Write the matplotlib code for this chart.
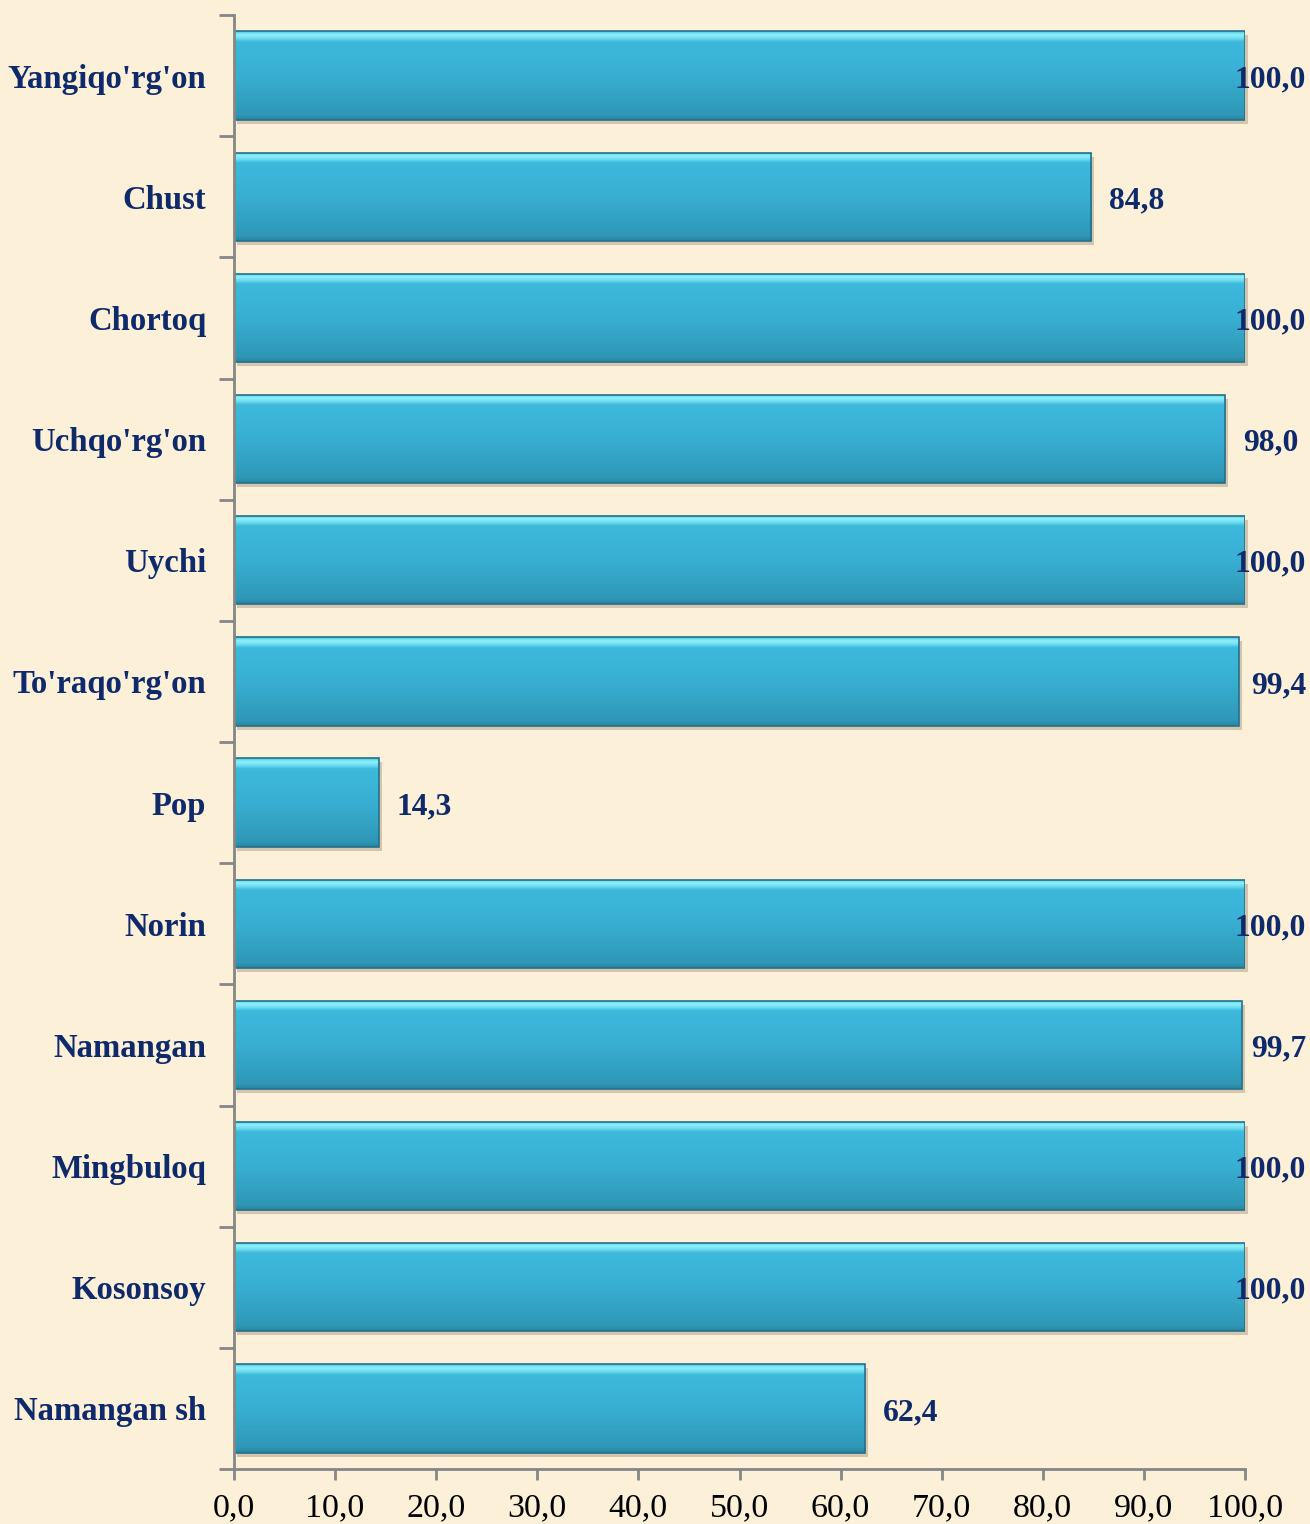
import matplotlib
matplotlib.use("Agg")
import matplotlib.pyplot as plt
import numpy as np
from matplotlib.colors import LinearSegmentedColormap
from matplotlib.patches import Rectangle
import matplotlib.transforms as mtransforms

categories = ["Namangan sh", "Kosonsoy", "Mingbuloq", "Namangan", "Norin", "Pop",
              "To'raqo'rg'on", "Uychi", "Uchqo'rg'on", "Chortoq", "Chust", "Yangiqo'rg'on"]
values = [62.4, 100.0, 100.0, 99.7, 100.0, 14.3, 99.4, 100.0, 98.0, 100.0, 84.8, 100.0]
xticks = [0, 10, 20, 30, 40, 50, 60, 70, 80, 90, 100]
xtick_labels = ["0,0", "10,0", "20,0", "30,0", "40,0", "50,0", "60,0", "70,0", "80,0", "90,0", "100,0"]

W, H = 1310, 1524
DPI = 100
bg = "#fcf0d9"
navy = "#0e2a6b"

fig = plt.figure(figsize=(W / DPI, H / DPI), dpi=DPI, facecolor=bg)
ax = fig.add_axes([234 / W, 1 - 1469 / H, (1245 - 234) / W, (1469 - 15) / H])
ax.set_facecolor("none")

y = np.arange(len(categories))
bars = ax.barh(y, values, height=0.73, color="#3ab4d8", edgecolor="none", zorder=2)

ax.set_xlim(0, 100)
ax.set_ylim(-0.5, len(categories) - 0.5)

cmap = LinearSegmentedColormap.from_list(
    "bev", [(0.0, "#27859f"), (0.06, "#2f97b7"), (0.5, "#38afd2"), (0.88, "#3db9dc"),
            (0.92, "#6fdcf2"), (0.96, "#8ff0fb"), (1.0, "#4cc6e2")])
grad = np.linspace(0, 1, 256).reshape(-1, 1)

shadow_off = mtransforms.offset_copy(ax.transData, fig=fig, x=3, y=-4, units="dots")
for b in bars:
    x0, y0 = b.get_x(), b.get_y()
    w, h = b.get_width(), b.get_height()
    sh = Rectangle((x0, y0), w, h, transform=shadow_off, facecolor="#8a7a60",
                   alpha=0.35, edgecolor="none", zorder=1, clip_on=False)
    ax.add_patch(sh)
    im = ax.imshow(grad, cmap=cmap, aspect="auto", origin="lower",
                   extent=(x0, x0 + w, y0, y0 + h), zorder=3, interpolation="bilinear")
    im.set_clip_path(b)
    ax.add_patch(Rectangle((x0, y0), w, h, facecolor="none", edgecolor="#25708a",
                           linewidth=1.2, zorder=4))

# value labels
fig.canvas.draw()
renderer = fig.canvas.get_renderer()
label_tr = mtransforms.offset_copy(ax.transData, fig=fig, x=0, y=-4, units="dots")
for yi, v in zip(y, values):
    lab = f"{v:.1f}".replace(".", ",")
    t = ax.text(0, yi, lab, fontsize=22.8, fontweight="bold", color=navy,
                family="Liberation Serif", va="center", ha="left", zorder=6,
                transform=label_tr)
    bb = t.get_window_extent(renderer=renderer)
    end_px = ax.transData.transform((v, yi))[0]
    left_px = min(end_px + 18, 1306 - bb.width)
    t.set_x(ax.transData.inverted().transform((left_px, 0))[0])

ax.set_xticks(xticks)
ax.set_xticklabels(xtick_labels, family="Liberation Serif", fontsize=24.5, color="black")
ax.set_yticks(y)
ax.set_yticklabels(categories, family="Liberation Serif", fontsize=23.6,
                   fontweight="bold", color=navy)
ax.set_yticks(np.arange(-0.5, len(categories), 1), minor=True)
ax.tick_params(axis="y", which="major", length=0, pad=20)
ax.tick_params(axis="y", which="minor", length=11, width=2, color="#868686")
ax.tick_params(axis="x", which="major", length=8, width=2, color="#868686", pad=9)

for s in ["top", "right"]:
    ax.spines[s].set_visible(False)
for s in ["left", "bottom"]:
    ax.spines[s].set_color("#868686")
    ax.spines[s].set_linewidth(2)
    ax.spines[s].set_zorder(5)

fig.savefig("out.png", dpi=DPI, facecolor=bg)
